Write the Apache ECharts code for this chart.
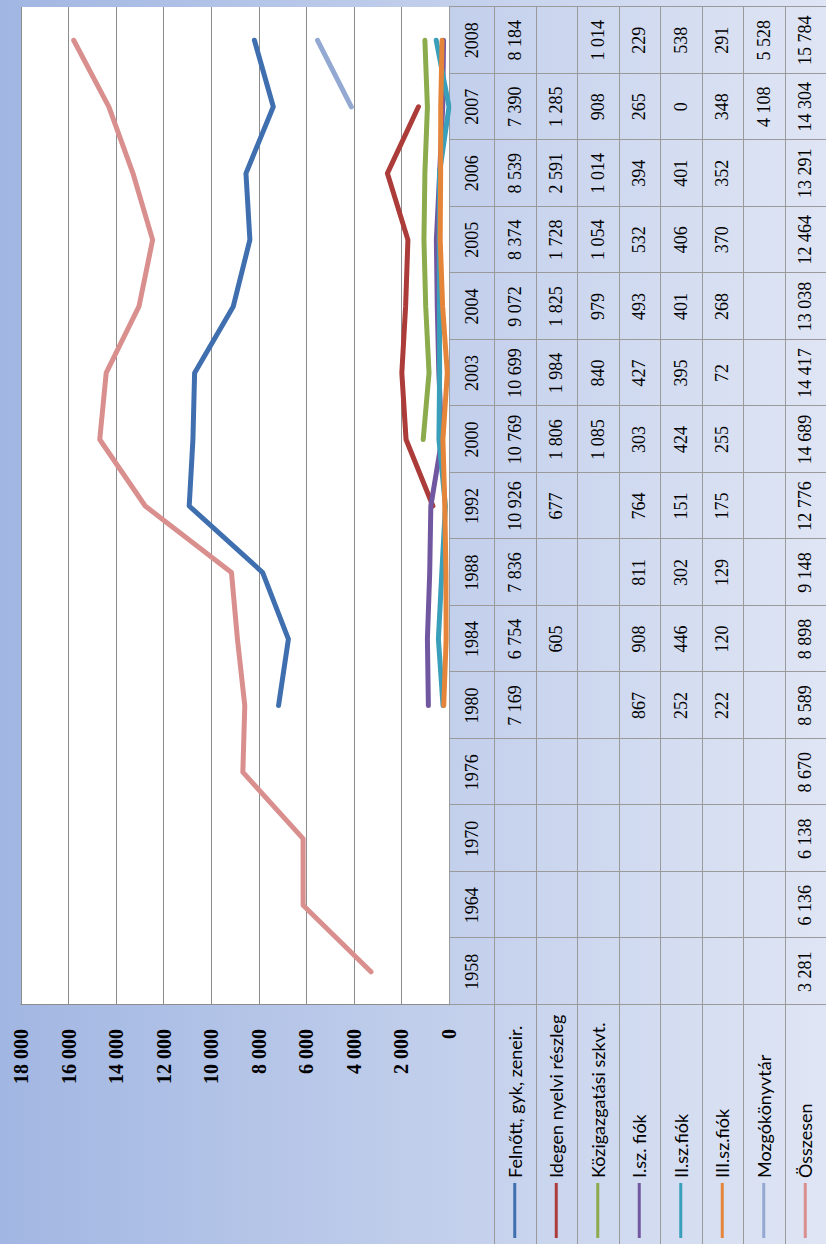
<!DOCTYPE html>
<html>
<head>
<meta charset="utf-8">
<script src="https://cdn.jsdelivr.net/npm/echarts@6/dist/echarts.min.js"></script>
<style>
  html, body { margin: 0; padding: 0; overflow: hidden; background: #fff; }
  /* the chart is laid out landscape and turned a quarter left, like the source */
  #main { position: absolute; left: 0; top: 0; width: 1244px; height: 826px;
    transform-origin: 0 0; transform: translate(0, 1244px) rotate(-90deg); }
</style>
</head>
<body>
<div id="main"></div>
<script>
(function () {

  let years = ['1958', '1964', '1970', '1976', '1980', '1984', '1988', '1992', '2000', '2003', '2004', '2005', '2006', '2007', '2008'];

  let names = ['Felnőtt, gyk, zeneir.', 'Idegen nyelvi részleg', 'Közigazgatási szkvt.', 'I.sz. fiók', 'II.sz.fiók', 'III.sz.fiók', 'Mozgókönyvtár', 'Összesen'];

  let felnott  = [null, null, null, null, 7169, 6754, 7836, 10926, 10769, 10699, 9072, 8374, 8539, 7390, 8184];
  let idegen   = [null, null, null, null, null, 605, null, 677, 1806, 1984, 1825, 1728, 2591, 1285, null];
  let kozig    = [null, null, null, null, null, null, null, null, 1085, 840, 979, 1054, 1014, 908, 1014];
  let fiok1    = [null, null, null, null, 867, 908, 811, 764, 303, 427, 493, 532, 394, 265, 229];
  let fiok2    = [null, null, null, null, 252, 446, 302, 151, 424, 395, 401, 406, 401, 0, 538];
  let fiok3    = [null, null, null, null, 222, 120, 129, 175, 255, 72, 268, 370, 352, 348, 291];
  let mozgo    = [null, null, null, null, null, null, null, null, null, null, null, null, null, 4108, 5528];
  let osszesen = [3281, 6136, 6138, 8670, 8589, 8898, 9148, 12776, 14689, 14417, 13038, 12464, 13291, 14304, 15784];

  let allData = [felnott, idegen, kozig, fiok1, fiok2, fiok3, mozgo, osszesen];
  let colors = ['#3f6fae', '#ab3c39', '#8bab4d', '#71579f', '#3a9fba', '#e5853a', '#93a9d2', '#d98f8d'];

  function fmt(v) {
    if (v === null || v === undefined) return '';
    return String(v).replace(/\B(?=(\d{3})+(?!\d))/g, ' ');
  }

  let chart = echarts.init(document.getElementById('main'), null, { renderer: 'svg' });

  chart.setOption({
    animation: false,
    backgroundColor: new echarts.graphic.LinearGradient(0, 0, 0, 1, [
      { offset: 0, color: '#a1b6e2' },
      { offset: 1, color: '#dfe5f4' }
    ]),
    grid: {
      left: 239, right: 7, top: 21, bottom: 377,
      show: true, backgroundColor: '#fff', borderWidth: 0
    },
    xAxis: {
      type: 'category',
      data: years,
      boundaryGap: true,
      axisLine: { show: true, lineStyle: { color: '#999' } },
      axisTick: { show: false },
      axisLabel: { show: false }
    },
    yAxis: {
      type: 'value',
      min: 0, max: 18000, interval: 2000,
      axisLine: { show: true, lineStyle: { color: '#8c8c8c' } },
      axisTick: { show: false },
      splitLine: { lineStyle: { color: '#8c8c8c' } },
      axisLabel: {
        margin: 24,
        fontFamily: 'Liberation Serif',
        fontSize: 20,
        fontWeight: 'bold',
        color: '#000',
        formatter: fmt
      }
    },
    series: names.map(function (n, i) {
      return {
        name: n,
        type: 'line',
        data: allData[i],
        showSymbol: false,
        connectNulls: false,
        silent: true,
        lineStyle: { width: 5, color: colors[i], cap: 'round', join: 'round' },
        itemStyle: { color: colors[i] }
      };
    })
  });

  // data table under the plot, lined up with the category bands
  let x0 = chart.convertToPixel({ xAxisIndex: 0 }, 0);
  let x1 = chart.convertToPixel({ xAxisIndex: 0 }, 1);
  let band = x1 - x0;
  let tableTop = Math.round(chart.convertToPixel({ yAxisIndex: 0 }, 0));
  let headH = 45, rowH = 41.5;
  let left = x0 - band / 2;
  let right = left + band * years.length;
  let bottom = 826;
  let lineCol = '#9a9a9a';
  let g = [];

  function hline(y, xa, xb) {
    let yy = Math.round(y) + 0.5;
    g.push({ type: 'line', silent: true, shape: { x1: xa, y1: yy, x2: xb, y2: yy }, style: { stroke: lineCol, lineWidth: 1 } });
  }
  function vline(x, ya, yb) {
    let xx = Math.round(x) + 0.5;
    g.push({ type: 'line', silent: true, shape: { x1: xx, y1: ya, x2: xx, y2: yb }, style: { stroke: lineCol, lineWidth: 1 } });
  }
  function txt(s, x, y, opt) {
    g.push({
      type: 'text', silent: true, x: x, y: y,
      style: Object.assign({
        text: s, fill: '#000', align: 'center', verticalAlign: 'middle',
        fontFamily: 'Liberation Serif', fontSize: 18
      }, opt || {})
    });
  }

  hline(tableTop, left, right);
  for (let k = 0; k < names.length; k++) {
    hline(tableTop + headH + k * rowH, 0, right);
  }
  for (let j = 0; j <= years.length; j++) {
    vline(left + j * band, tableTop, bottom);
  }

  years.forEach(function (yr, j) {
    let cx = left + band * (j + 0.5);
    txt(yr, cx, tableTop + headH / 2);
    allData.forEach(function (arr, i) {
      let v = arr[j];
      if (v !== null) txt(fmt(v), cx, tableTop + headH + rowH * (i + 0.5));
    });
  });

  names.forEach(function (n, i) {
    let cy = tableTop + headH + rowH * (i + 0.5);
    g.push({
      type: 'line', silent: true,
      shape: { x1: 6, y1: cy, x2: 61, y2: cy },
      style: { stroke: colors[i], lineWidth: 3 }
    });
    txt(n, 66, cy, { align: 'left', fontFamily: 'Lato', fontSize: 18 });
  });

  chart.setOption({ graphic: g });

})();
</script>
</body>
</html>
